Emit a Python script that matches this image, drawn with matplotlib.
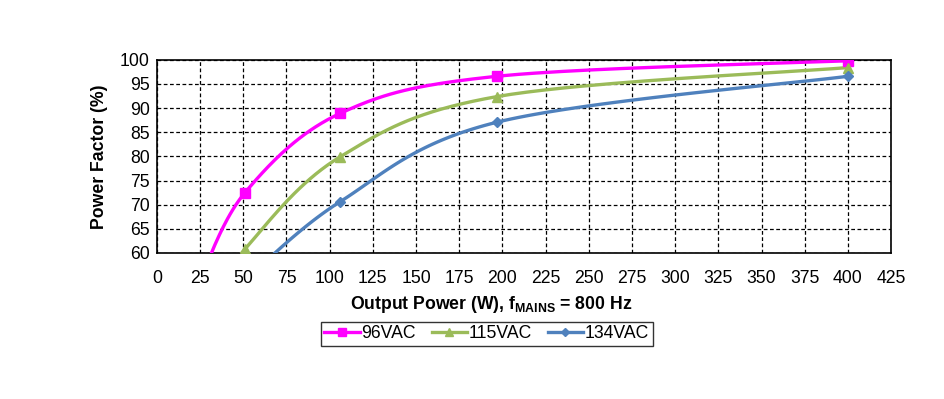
import numpy as np
import matplotlib.pyplot as plt

plt.rcParams['font.family'] = ['Liberation Sans', 'DejaVu Sans']
plt.rcParams['mathtext.fontset'] = 'custom'
plt.rcParams['mathtext.rm'] = 'Liberation Sans'
plt.rcParams['mathtext.bf'] = 'Liberation Sans:bold'

# data (first point of each series lies below the 60 % axis floor)
p_96 = [25, 51, 106, 197, 400]
pf_96 = [54.5, 72.5, 88.9, 96.6, 99.8]
p_115 = [25, 51, 106, 197, 400]
pf_115 = [47.0, 60.8, 79.9, 92.4, 98.4]
p_134 = [50, 106, 197, 400]
pf_134 = [54.0, 70.6, 87.1, 96.6]

series = [
    ("96VAC", p_96, pf_96, "#FF00FF", "s", 7),
    ("115VAC", p_115, pf_115, "#9BBB59", "^", 7),
    ("134VAC", p_134, pf_134, "#4F81BD", "D", 5.5),
]


def smooth(x, y, n=40):
    # Excel-style smoothed line: cubic Bezier with Catmull-Rom control points
    pts = np.column_stack([x, y]).astype(float)
    ext = np.vstack([pts[0], pts, pts[-1]])
    out = []
    t = np.linspace(0, 1, n)[:, None]
    for i in range(len(pts) - 1):
        p0, p3 = ext[i + 1], ext[i + 2]
        c1 = p0 + (ext[i + 2] - ext[i]) / 6
        c2 = p3 - (ext[i + 3] - ext[i + 1]) / 6
        seg = ((1 - t) ** 3) * p0 + 3 * ((1 - t) ** 2) * t * c1 + 3 * (1 - t) * t ** 2 * c2 + t ** 3 * p3
        out.append(seg)
    out = np.vstack(out)
    return out[:, 0], out[:, 1]


fig = plt.figure(figsize=(9.45, 3.99), dpi=100)
ax = fig.add_axes([0.166, 0.366, 0.777, 0.484])

handles = []
for name, xs, ys, col, mk, ms in series:
    sx, sy = smooth(xs, ys)
    ax.plot(sx, sy, color=col, lw=2.4, zorder=3)
    ax.plot(xs, ys, ls='none', marker=mk, ms=ms, color=col, zorder=4)
    h, = ax.plot([], [], color=col, lw=2.4, marker=mk, ms=ms - 1, label=name)
    handles.append(h)

ax.set_xlim(0, 425)
ax.set_ylim(60, 100)
ax.set_xticks(np.arange(0, 426, 25))
ax.set_yticks(np.arange(60, 101, 5))
ax.grid(True, color='black', ls=(0, (3, 2)), lw=0.9)
ax.tick_params(length=0, labelsize=12.7)
ax.tick_params(axis='x', pad=12)
ax.tick_params(axis='y', pad=5)
for s in ax.spines.values():
    s.set_color('black')
    s.set_linewidth(1.2)

ax.set_ylabel('Power Factor (%)', fontsize=12.7, fontweight='bold', labelpad=9)
ax.set_xlabel(r'Output Power (W), $\mathbf{f}_{\mathbf{MAINS}}$ = 800 Hz',
              fontsize=12.7, fontweight='bold')
ax.xaxis.set_label_coords(0.455, -0.21)

leg = fig.legend(handles=handles, loc='center', bbox_to_anchor=(0.515, 0.163), ncol=3,
                 fontsize=12.7, frameon=True, fancybox=False, handlelength=2.0,
                 columnspacing=0.9, handletextpad=0.1, borderpad=0.2)
leg.get_frame().set_edgecolor('black')
leg.get_frame().set_linewidth(1.0)

fig.savefig('out.png', dpi=100)
